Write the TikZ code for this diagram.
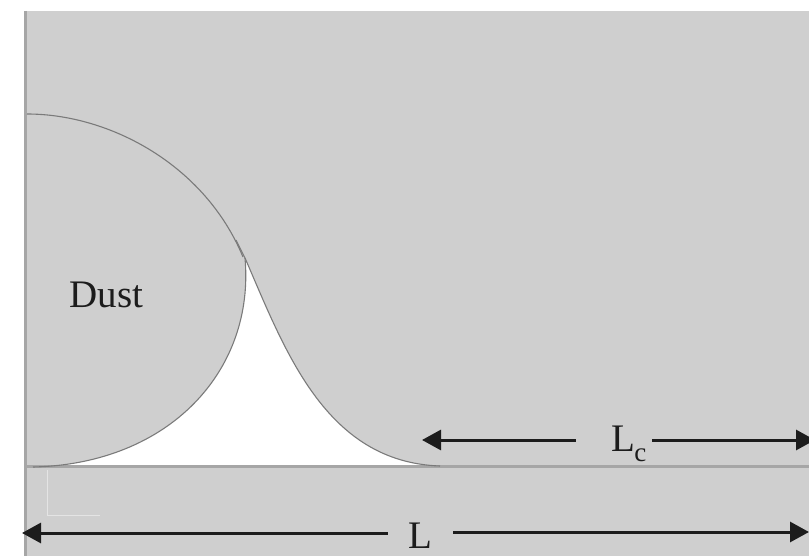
\documentclass[tikz,border=0pt]{standalone}
\usepackage{fontspec}
\setmainfont{Liberation Serif}
\usetikzlibrary{arrows.meta}
\definecolor{dustgrey}{HTML}{CFCFCF}
\definecolor{edgegrey}{HTML}{A6A6A6}
\definecolor{curvegrey}{HTML}{7A7A7A}
\definecolor{markgrey}{HTML}{E4E4E4}
\definecolor{inkdark}{HTML}{1C1C1C}
\tikzset{
  dim/.style={draw=inkdark,line width=3pt,-{Triangle[length=19pt,width=20pt]}},
  label/.style={text=inkdark,inner sep=0pt,font=\fontsize{39}{39}\selectfont},
  curveline/.style={draw=curvegrey,line width=1.1pt}
}
\begin{document}
\begin{tikzpicture}[x=1pt,y=-1pt]
\clip (0,0) rectangle (809,556);
\fill[white] (0,0) rectangle (809,556);
\fill[dustgrey] (24,11) rectangle (809,556);
% white gap between the dust and the plate
\fill[white] (245,258) .. controls (255,370) and (170,464) .. (33,467)
  -- (440,466) .. controls (325,462) and (285,350) .. (245,258) -- cycle;
% edges
\draw[edgegrey,line width=3.5pt] (25.5,11) -- (25.5,556);
\draw[edgegrey,line width=2.4pt] (26,466.5) -- (809,466.5);
% dust outline
\draw[curveline] (27,114) .. controls (110,114) and (205,165) .. (243,257);
\draw[curveline] (245,258) .. controls (255,370) and (170,464) .. (33,467);
\draw[curveline] (236,240) -- (245,258) .. controls (285,350) and (325,462) .. (440,466);
% faint mark
\draw[markgrey,line width=1.2pt] (47.5,470) -- (47.5,515.5) -- (100,515.5);
% labels
\node[label] (dust) at (106.5,295) {Dust};
\node[label,minimum width=76pt,minimum height=30pt] (lc) at (614,444) {\hspace{30pt}L\kern-1pt\raisebox{-10pt}{\fontsize{27}{27}\selectfont c}};
\node[label,minimum width=65pt,minimum height=30pt] (ll) at (420.5,536) {L};
% arrow tips
\coordinate (lcleft) at (422,440);
\coordinate (lcright) at (815,440);
\coordinate (lleft) at (22,533);
\coordinate (lright) at (809,532);
\draw[dim] (lc.west |- lcleft) -- (lcleft);
\draw[dim] (lc.east |- lcright) -- (lcright);
\draw[dim] (ll.west |- lleft) -- (lleft);
\draw[dim] (ll.east |- lright) -- (lright);
\end{tikzpicture}
\end{document}
